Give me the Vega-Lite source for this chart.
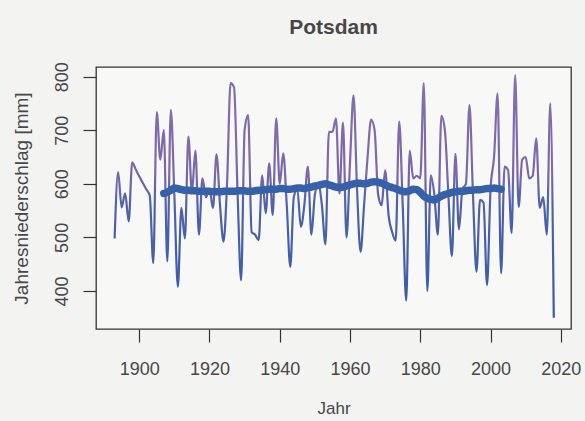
{
  "$schema": "https://vega.github.io/schema/vega-lite/v6.json",
  "autosize": {"type": "none"},
  "width": 475,
  "height": 262,
  "padding": {"left": 96, "top": 67, "right": 14, "bottom": 92},
  "background": "#f3f3f1",
  "config": {
    "view": {"stroke": "#333333", "strokeWidth": 1.3, "fill": "#f8f8f6"},
    "font": "Liberation Sans",
    "title": {"font": "Liberation Sans", "fontSize": 21, "fontWeight": "bold", "color": "#474747", "baseline": "alphabetic", "offset": 24, "anchor": "middle", "frame": "group"},
    "axis": {"grid": false, "domain": false, "tickColor": "#333333", "tickWidth": 1.2, "tickSize": 13, "labelFont": "Liberation Sans", "titleFont": "Liberation Sans", "labelColor": "#474747", "titleColor": "#474747", "titleFontWeight": "normal", "labelFontSize": 18, "titleFontSize": 17}
  },
  "title": "Potsdam",
  "datasets": {
    "annual": [
      {"year": 1893, "mm": 498}, {"year": 1894, "mm": 622}, {"year": 1895, "mm": 556}, {"year": 1896, "mm": 582},
      {"year": 1897, "mm": 530}, {"year": 1898, "mm": 640}, {"year": 1899, "mm": 627}, {"year": 1900, "mm": 614},
      {"year": 1901, "mm": 602}, {"year": 1902, "mm": 590}, {"year": 1903, "mm": 578}, {"year": 1904, "mm": 452},
      {"year": 1905, "mm": 734}, {"year": 1906, "mm": 645}, {"year": 1907, "mm": 700}, {"year": 1908, "mm": 455},
      {"year": 1909, "mm": 738}, {"year": 1910, "mm": 580}, {"year": 1911, "mm": 408}, {"year": 1912, "mm": 555},
      {"year": 1913, "mm": 498}, {"year": 1914, "mm": 688}, {"year": 1915, "mm": 585}, {"year": 1916, "mm": 662},
      {"year": 1917, "mm": 505}, {"year": 1918, "mm": 610}, {"year": 1919, "mm": 575}, {"year": 1920, "mm": 590},
      {"year": 1921, "mm": 555}, {"year": 1922, "mm": 655}, {"year": 1923, "mm": 560}, {"year": 1924, "mm": 492},
      {"year": 1925, "mm": 600}, {"year": 1926, "mm": 788}, {"year": 1927, "mm": 780}, {"year": 1928, "mm": 582},
      {"year": 1929, "mm": 420}, {"year": 1930, "mm": 700}, {"year": 1931, "mm": 728}, {"year": 1932, "mm": 510},
      {"year": 1933, "mm": 505}, {"year": 1934, "mm": 495}, {"year": 1935, "mm": 616}, {"year": 1936, "mm": 545},
      {"year": 1937, "mm": 638}, {"year": 1938, "mm": 542}, {"year": 1939, "mm": 722}, {"year": 1940, "mm": 600},
      {"year": 1941, "mm": 657}, {"year": 1942, "mm": 560}, {"year": 1943, "mm": 445}, {"year": 1944, "mm": 575},
      {"year": 1945, "mm": 590}, {"year": 1946, "mm": 520}, {"year": 1947, "mm": 560}, {"year": 1948, "mm": 632},
      {"year": 1949, "mm": 505}, {"year": 1950, "mm": 580}, {"year": 1951, "mm": 600}, {"year": 1952, "mm": 560},
      {"year": 1953, "mm": 487}, {"year": 1954, "mm": 697}, {"year": 1955, "mm": 697}, {"year": 1956, "mm": 722},
      {"year": 1957, "mm": 582}, {"year": 1958, "mm": 714}, {"year": 1959, "mm": 500}, {"year": 1960, "mm": 640},
      {"year": 1961, "mm": 765}, {"year": 1962, "mm": 590}, {"year": 1963, "mm": 473}, {"year": 1964, "mm": 560},
      {"year": 1965, "mm": 650}, {"year": 1966, "mm": 720}, {"year": 1967, "mm": 700}, {"year": 1968, "mm": 580},
      {"year": 1969, "mm": 560}, {"year": 1970, "mm": 625}, {"year": 1971, "mm": 540}, {"year": 1972, "mm": 510},
      {"year": 1973, "mm": 494}, {"year": 1974, "mm": 716}, {"year": 1975, "mm": 560}, {"year": 1976, "mm": 382},
      {"year": 1977, "mm": 662}, {"year": 1978, "mm": 610}, {"year": 1979, "mm": 615}, {"year": 1980, "mm": 610},
      {"year": 1981, "mm": 788}, {"year": 1982, "mm": 400}, {"year": 1983, "mm": 616}, {"year": 1984, "mm": 580},
      {"year": 1985, "mm": 505}, {"year": 1986, "mm": 727}, {"year": 1987, "mm": 700}, {"year": 1988, "mm": 580},
      {"year": 1989, "mm": 465}, {"year": 1990, "mm": 656}, {"year": 1991, "mm": 515}, {"year": 1992, "mm": 590},
      {"year": 1993, "mm": 600}, {"year": 1994, "mm": 747}, {"year": 1995, "mm": 580}, {"year": 1996, "mm": 436},
      {"year": 1997, "mm": 570}, {"year": 1998, "mm": 565}, {"year": 1999, "mm": 411}, {"year": 2000, "mm": 590},
      {"year": 2001, "mm": 650}, {"year": 2002, "mm": 769}, {"year": 2003, "mm": 433}, {"year": 2004, "mm": 632},
      {"year": 2005, "mm": 625}, {"year": 2006, "mm": 508}, {"year": 2007, "mm": 803}, {"year": 2008, "mm": 557},
      {"year": 2009, "mm": 645}, {"year": 2010, "mm": 650}, {"year": 2011, "mm": 610}, {"year": 2012, "mm": 615},
      {"year": 2013, "mm": 685}, {"year": 2014, "mm": 555}, {"year": 2015, "mm": 575}, {"year": 2016, "mm": 505},
      {"year": 2017, "mm": 750}, {"year": 2018, "mm": 350}
    ],
    "ma": [
      {"year": 1907, "mm": 582}, {"year": 1908, "mm": 584}, {"year": 1909, "mm": 588}, {"year": 1910, "mm": 592},
      {"year": 1911, "mm": 591}, {"year": 1912, "mm": 589}, {"year": 1913, "mm": 588}, {"year": 1914, "mm": 588},
      {"year": 1915, "mm": 587}, {"year": 1916, "mm": 587}, {"year": 1917, "mm": 586}, {"year": 1918, "mm": 586},
      {"year": 1919, "mm": 586}, {"year": 1920, "mm": 586}, {"year": 1921, "mm": 585}, {"year": 1922, "mm": 585},
      {"year": 1923, "mm": 585}, {"year": 1924, "mm": 586}, {"year": 1925, "mm": 586}, {"year": 1926, "mm": 586},
      {"year": 1927, "mm": 586}, {"year": 1928, "mm": 587}, {"year": 1929, "mm": 587}, {"year": 1930, "mm": 587},
      {"year": 1931, "mm": 586}, {"year": 1932, "mm": 586}, {"year": 1933, "mm": 587}, {"year": 1934, "mm": 588},
      {"year": 1935, "mm": 588}, {"year": 1936, "mm": 589}, {"year": 1937, "mm": 590}, {"year": 1938, "mm": 590},
      {"year": 1939, "mm": 590}, {"year": 1940, "mm": 591}, {"year": 1941, "mm": 591}, {"year": 1942, "mm": 590},
      {"year": 1943, "mm": 590}, {"year": 1944, "mm": 591}, {"year": 1945, "mm": 592}, {"year": 1946, "mm": 592},
      {"year": 1947, "mm": 591}, {"year": 1948, "mm": 593}, {"year": 1949, "mm": 594}, {"year": 1950, "mm": 596},
      {"year": 1951, "mm": 597}, {"year": 1952, "mm": 599}, {"year": 1953, "mm": 600}, {"year": 1954, "mm": 598},
      {"year": 1955, "mm": 596}, {"year": 1956, "mm": 594}, {"year": 1957, "mm": 593}, {"year": 1958, "mm": 594},
      {"year": 1959, "mm": 596}, {"year": 1960, "mm": 598}, {"year": 1961, "mm": 600}, {"year": 1962, "mm": 601},
      {"year": 1963, "mm": 601}, {"year": 1964, "mm": 600}, {"year": 1965, "mm": 601}, {"year": 1966, "mm": 603},
      {"year": 1967, "mm": 604}, {"year": 1968, "mm": 603}, {"year": 1969, "mm": 601}, {"year": 1970, "mm": 598},
      {"year": 1971, "mm": 595}, {"year": 1972, "mm": 593}, {"year": 1973, "mm": 591}, {"year": 1974, "mm": 588},
      {"year": 1975, "mm": 586}, {"year": 1976, "mm": 585}, {"year": 1977, "mm": 587}, {"year": 1978, "mm": 590},
      {"year": 1979, "mm": 589}, {"year": 1980, "mm": 584}, {"year": 1981, "mm": 577}, {"year": 1982, "mm": 573},
      {"year": 1983, "mm": 571}, {"year": 1984, "mm": 570}, {"year": 1985, "mm": 573}, {"year": 1986, "mm": 577},
      {"year": 1987, "mm": 580}, {"year": 1988, "mm": 582}, {"year": 1989, "mm": 584}, {"year": 1990, "mm": 585},
      {"year": 1991, "mm": 586}, {"year": 1992, "mm": 586}, {"year": 1993, "mm": 587}, {"year": 1994, "mm": 588},
      {"year": 1995, "mm": 588}, {"year": 1996, "mm": 589}, {"year": 1997, "mm": 589}, {"year": 1998, "mm": 590},
      {"year": 1999, "mm": 591}, {"year": 2000, "mm": 591}, {"year": 2001, "mm": 592}, {"year": 2002, "mm": 591},
      {"year": 2003, "mm": 590}
    ]
  },
  "encoding": {
    "x": {"field": "year", "type": "quantitative", "scale": {"domain": [1887.7, 2022.9], "nice": false, "zero": false},
          "axis": {"title": "Jahr", "values": [1900, 1920, 1940, 1960, 1980, 2000, 2020], "format": "d", "labelPadding": 18, "titlePadding": 22}},
    "y": {"field": "mm", "type": "quantitative", "scale": {"domain": [329, 818], "nice": false, "zero": false},
          "axis": {"title": "Jahresniederschlag [mm]", "values": [400, 500, 600, 700, 800], "labelAngle": -90, "labelAlign": "center", "labelBaseline": "bottom", "labelPadding": 12, "titleFontSize": 19, "titlePadding": 22}}
  },
  "layer": [
    {"data": {"name": "annual"},
     "mark": {"type": "line", "strokeWidth": 2.2, "clip": true, "interpolate": "monotone", "strokeJoin": "round",
              "color": {"gradient": "linear", "x1": 0, "y1": 0, "x2": 0, "y2": 1,
                        "stops": [{"offset": 0, "color": "#8470ae"}, {"offset": 0.4, "color": "#7a68ab"}, {"offset": 0.54, "color": "#4d62aa"}, {"offset": 1, "color": "#3a5aa8"}]}}},
    {"data": {"name": "ma"},
     "mark": {"type": "line", "strokeWidth": 7.5, "color": "#3661a8", "strokeCap": "round", "strokeJoin": "round", "interpolate": "monotone"}}
  ]
}
